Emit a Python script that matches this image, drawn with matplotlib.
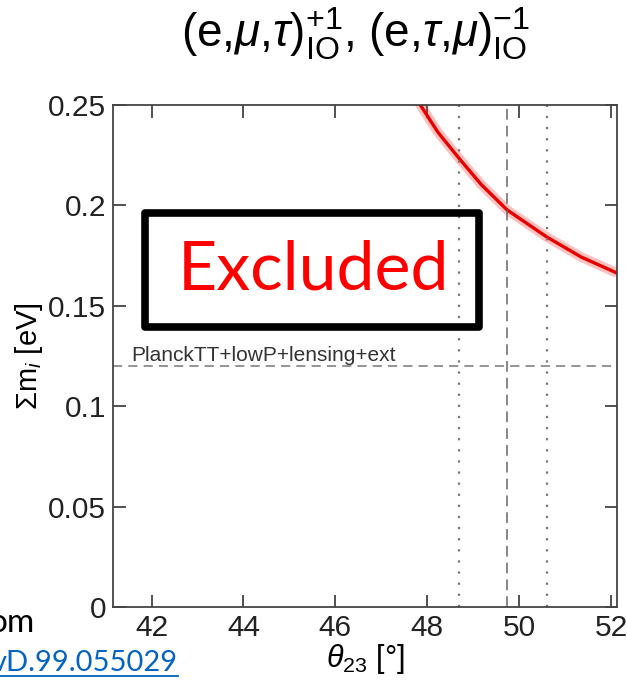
import numpy as np
import matplotlib
matplotlib.use("Agg")
import matplotlib.pyplot as plt
from matplotlib.patches import Rectangle
from matplotlib.lines import Line2D

# curve: theta23 [deg] -> sum of masses [eV]
THETA = [47.70, 47.85, 48.23, 48.69, 49.17, 49.74, 50.19, 50.60, 51.35, 52.13]
SUM_M = [0.256, 0.250, 0.2365, 0.2235, 0.2105, 0.1977, 0.1907, 0.1843, 0.1743, 0.1663]

PLANCK_BOUND = 0.12
THETA_BEST = 49.74
THETA_1SIG = [48.69, 50.60]

XTICKS = [42, 44, 46, 48, 50, 52]
YTICKS = [0, 0.05, 0.1, 0.15, 0.2, 0.25]
YTICKLABELS = ["0", "0.05", "0.1", "0.15", "0.2", "0.25"]

W, H = 627, 688

plt.rcParams["font.family"] = ["Liberation Sans", "DejaVu Sans"]
plt.rcParams["mathtext.fontset"] = "custom"
plt.rcParams["mathtext.rm"] = "Liberation Sans"
plt.rcParams["mathtext.it"] = "Liberation Sans:italic"
plt.rcParams["mathtext.bf"] = "Liberation Sans:bold"

fig = plt.figure(figsize=(W / 100, H / 100), dpi=100)
ax = fig.add_axes([113 / W, 1 - 607 / H, 504 / W, 502 / H])

# band + central line
ax.plot(THETA, SUM_M, color="#ff3030", lw=7, alpha=0.3, solid_capstyle="butt")
ax.plot(THETA, SUM_M, color="#e60000", lw=2.4)

ax.axhline(PLANCK_BOUND, color="#777777", lw=1.1, dashes=(6, 4))
ax.axvline(THETA_BEST, color="#666666", lw=1.1, dashes=(7, 4))
for t in THETA_1SIG:
    ax.axvline(t, color="#777777", lw=1.6, dashes=(1, 4))

ax.text(41.55, PLANCK_BOUND + 0.0005, "PlanckTT+lowP+lensing+ext",
        fontsize=15, color="#333333", va="bottom", ha="left")

ax.set_xlim(41.16, 52.13)
ax.set_ylim(0, 0.25)
ax.set_xticks(XTICKS)
ax.set_yticks(YTICKS)
ax.set_yticklabels(YTICKLABELS)
ax.tick_params(direction="in", length=9, width=1.1, labelsize=21.5,
               top=True, right=True, colors="#222222", pad=5)
for s in ax.spines.values():
    s.set_color("#444444")
    s.set_linewidth(1.3)

ax.set_xlabel(r"$\theta_{23}$ [°]", fontsize=22, labelpad=0)
ax.set_ylabel(r"$\Sigma$m$_i$ [eV]", fontsize=21, labelpad=2)

fig.text(356 / W, 1 - 48 / H,
         r"(e,$\mu$,$\tau$)$^{+1}_{\rm IO}$, (e,$\tau$,$\mu$)$^{-1}_{\rm IO}$",
         fontsize=33, ha="center", va="baseline")

# overlay box
box = Rectangle((145 / W, 1 - 327 / H), 334 / W, 114 / H, transform=fig.transFigure,
                fill=False, lw=5.5, ec="black", joinstyle="round")
fig.add_artist(box)
fig.text(314 / W, 1 - 270 / H, "Excluded", fontsize=49, color="#ff0000",
         family="Lato", ha="center", va="center")

# slide fragments at bottom left
fig.text(35 / W, 1 - 632 / H, "om", fontsize=24, family="Lato",
         ha="right", va="baseline", color="black")
fig.text(178 / W, 1 - 671 / H, "vD.99.055029", fontsize=21, family="Lato",
         ha="right", va="baseline", color="#0563c1")
fig.add_artist(Line2D([0, 178 / W], [1 - 676 / H, 1 - 676 / H],
                      transform=fig.transFigure, color="#0563c1", lw=1.3))

fig.savefig("out.png", dpi=100)
